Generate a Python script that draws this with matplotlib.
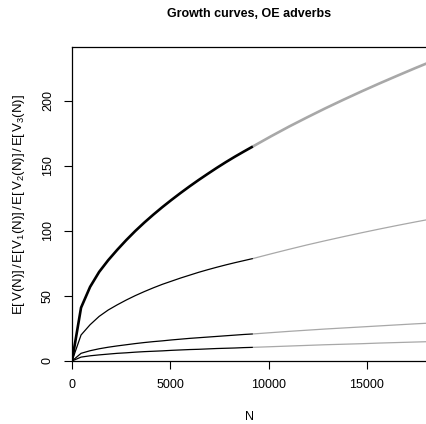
import matplotlib
matplotlib.use("Agg")
import matplotlib.pyplot as plt

plt.rcParams['font.family'] = ['Liberation Sans', 'DejaVu Sans']
plt.rcParams['mathtext.fontset'] = 'custom'
plt.rcParams['mathtext.rm'] = 'Liberation Sans'
plt.rcParams['mathtext.it'] = 'Liberation Sans'

# --- sample sizes (observed part and extrapolated part) ---
n_obs = [0, 460, 920, 1380, 1840, 2300, 2760, 3220, 3680, 4140, 4600,
         5060, 5520, 5980, 6440, 6900, 7360, 7820, 8280, 8740, 9200]
n_ext = [9200, 10120, 11040, 11960, 12880, 13800, 14720, 15640, 16560, 17480, 18400]

# --- expected vocabulary size and spectrum elements ---
v_obs = [0, 41, 57, 68.5, 77.5, 85.5, 93, 100, 106.5, 112.6, 118.4,
         123.9, 129.2, 134.3, 139.2, 143.9, 148.5, 152.9, 157.1, 161.1, 165]
v_ext = [165, 172.8, 180.3, 187.4, 194.3, 200.9, 207.3, 213.5, 219.5, 225.4, 231.1]

v1_obs = [0, 20, 27.9, 34.3, 39.2, 43.2, 46.9, 50.3, 53.4, 56.3, 59.0,
          61.4, 63.8, 66.0, 68.2, 70.2, 72.1, 73.9, 75.6, 77.2, 78.8]
v1_ext = [78.8, 82.4, 85.9, 89.3, 92.5, 95.6, 98.6, 101.5, 104.3, 107.0, 109.6]

v2_obs = [0, 5.9, 7.9, 9.4, 10.6, 11.6, 12.5, 13.4, 14.2, 14.9, 15.5,
          16.2, 16.8, 17.4, 17.9, 18.4, 18.9, 19.4, 19.9, 20.4, 20.8]
v2_ext = [20.8, 21.8, 22.8, 23.7, 24.6, 25.4, 26.2, 27.0, 27.8, 28.6, 29.3]

v3_obs = [0, 3.0, 4.0, 4.7, 5.3, 5.9, 6.3, 6.8, 7.2, 7.5, 7.8,
          8.2, 8.5, 8.8, 9.0, 9.3, 9.6, 9.8, 10.0, 10.3, 10.5]
v3_ext = [10.5, 11.0, 11.5, 12.0, 12.5, 12.9, 13.3, 13.8, 14.2, 14.6, 15.0]

x_ticks = [0, 5000, 10000, 15000]
y_ticks = [0, 50, 100, 150, 200]

fig = plt.figure(figsize=(4.26, 4.24), dpi=100)
ax = fig.add_axes([72/426, 63/424, 1 - 72/426, 314/424])

grey = "#a8a8a8"
# extrapolated parts first, observed on top
ax.plot(n_ext, v_ext, color=grey, lw=1.9, solid_capstyle="butt")
for ys in (v1_ext, v2_ext, v3_ext):
    ax.plot(n_ext, ys, color=grey, lw=0.9, solid_capstyle="butt")
ax.plot(n_obs, v_obs, color="black", lw=1.9, solid_capstyle="butt")
for ys in (v1_obs, v2_obs, v3_obs):
    ax.plot(n_obs, ys, color="black", lw=0.9, solid_capstyle="butt")

ax.set_xlim(0, 18006)
ax.set_ylim(0, 241.5)
ax.set_xticks(x_ticks)
ax.set_yticks(y_ticks)
ax.set_yticklabels([str(t) for t in y_ticks], rotation=90, va="center")
ax.tick_params(direction="out", length=6, width=0.8, labelsize=9, colors="black")
ax.tick_params(axis="y", pad=7)
ax.tick_params(axis="x", pad=7)
ax.spines["right"].set_visible(False)
for s in ("left", "bottom", "top"):
    ax.spines[s].set_linewidth(0.9)

ax.set_xlabel("N", fontsize=9, labelpad=14)
ylab = (r"$\mathrm{E[\,V(N)]\,/\,E[\,V_1(N)]\,/\,"
        r"E[\,V_2(N)]\,/\,E[\,V_3(N)]}$")
ax.set_ylabel(ylab, fontsize=9.5, labelpad=11)
fig.text(249/426, 1 - 14/424, "Growth curves, OE adverbs", ha="center", va="center",
         fontsize=9, fontweight="bold")

fig.savefig("out.png", dpi=100)
